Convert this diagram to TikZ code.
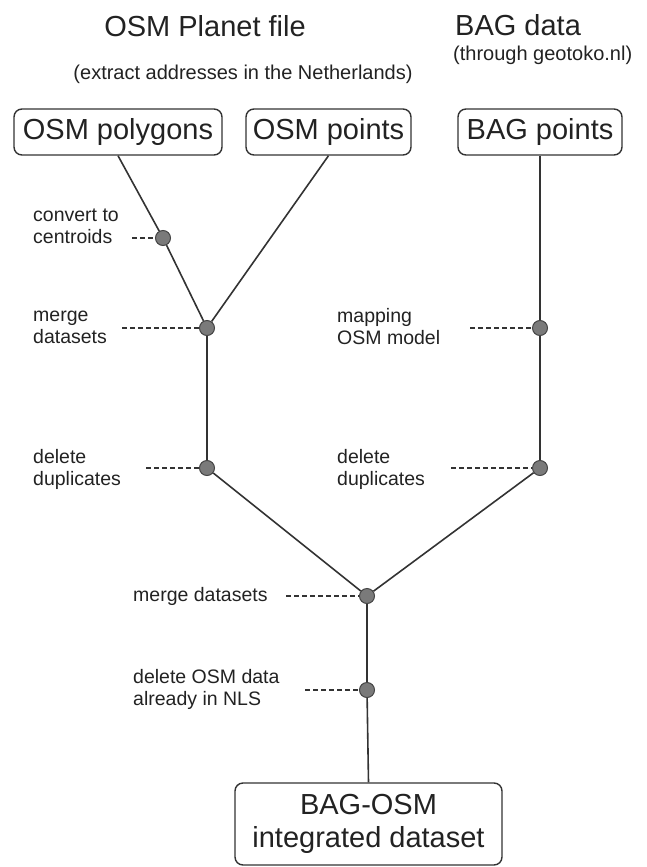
\documentclass[tikz,border=0pt]{standalone}
\usepackage{fontspec}
\setmainfont{Liberation Sans}
\definecolor{ink}{HTML}{222222}
\definecolor{linec}{HTML}{333333}
\definecolor{dotfill}{HTML}{7A7A7A}
\definecolor{dotedge}{HTML}{454545}
\begin{document}
\begin{tikzpicture}[x=1pt,y=-1pt,
  every node/.style={text=ink,inner sep=0pt},
  title/.style={font=\fontsize{29}{32}\selectfont},
  sub/.style={font=\fontsize{20}{22}\selectfont},
  lab/.style={font=\fontsize{19.5}{22}\selectfont,align=left,anchor=west},
  box/.style={draw=linec,line width=1.4pt,rounded corners=8pt,font=\fontsize{29}{33}\selectfont,align=center},
  dot/.style={circle,fill=dotfill,draw=dotedge,line width=1pt,minimum size=15pt},
  conn/.style={draw=linec,line width=1.6pt},
  dashline/.style={draw=linec,line width=1.6pt,dash pattern=on 5pt off 3pt}
]
\useasboundingbox (0,0) rectangle (646,867);
% titles
\node[title,anchor=base] (t1) at (205,37) {OSM Planet file};
\node[title,anchor=base west] (t2) at (455,36) {BAG data};
\node[sub,anchor=base west] (s2) at (453,61) {(through geotoko.nl)};
\node[sub,anchor=base] (s1) at (243,80) {(extract addresses in the Netherlands)};
% boxes
\node[box,minimum width=208pt,minimum height=46pt] (poly) at (118,132) {OSM polygons};
\node[box,minimum width=165pt,minimum height=46pt] (pts) at (328.5,132) {OSM points};
\node[box,minimum width=164pt,minimum height=46pt] (bag) at (540,132) {BAG points};
\node[box,minimum width=267pt,minimum height=82pt] (final) at (368.5,824) {BAG-OSM\\integrated dataset};
% dots
\node[dot] (c1) at (163,238) {};
\node[dot] (m1) at (207,328) {};
\node[dot] (map) at (540,328) {};
\node[dot] (d1) at (207,468) {};
\node[dot] (d2) at (540,468) {};
\node[dot] (m2) at (367,596) {};
\node[dot] (dl) at (367,690) {};
% connectors
\draw[conn] (poly.south) -- (c1);
\draw[conn] (c1) -- (m1);
\draw[conn] (pts.south) -- (m1);
\draw[conn] (m1) -- (d1);
\draw[conn] (d1) -- (m2);
\draw[conn] (bag.south) -- (map);
\draw[conn] (map) -- (d2);
\draw[conn] (d2) -- (m2);
\draw[conn] (m2) -- (dl);
\draw[conn] (dl) -- (final.north);
% labels
\node[lab] (lc1) at (33,226) {convert to\\centroids};
\node[lab] (lm1) at (33,327) {merge\\datasets};
\node[lab] (lmap) at (337,327) {mapping\\OSM model};
\node[lab] (ld1) at (33,469) {delete\\duplicates};
\node[lab] (ld2) at (337,469) {delete\\duplicates};
\node[lab] (lm2) at (133,596) {merge datasets};
\node[lab] (ldl) at (133,689) {delete OSM data\\already in NLS};
% dashed leaders
\coordinate (ec1) at (132,238);
\coordinate (em1) at (122,328);
\coordinate (emap) at (470,328);
\coordinate (ed1) at (146,468);
\coordinate (ed2) at (451,468);
\coordinate (em2) at (286,596);
\coordinate (edl) at (305,690);
\draw[dashline] (ec1) -- (c1);
\draw[dashline] (em1) -- (m1);
\draw[dashline] (emap) -- (map);
\draw[dashline] (ed1) -- (d1);
\draw[dashline] (ed2) -- (d2);
\draw[dashline] (em2) -- (m2);
\draw[dashline] (edl) -- (dl);
\end{tikzpicture}
\end{document}
